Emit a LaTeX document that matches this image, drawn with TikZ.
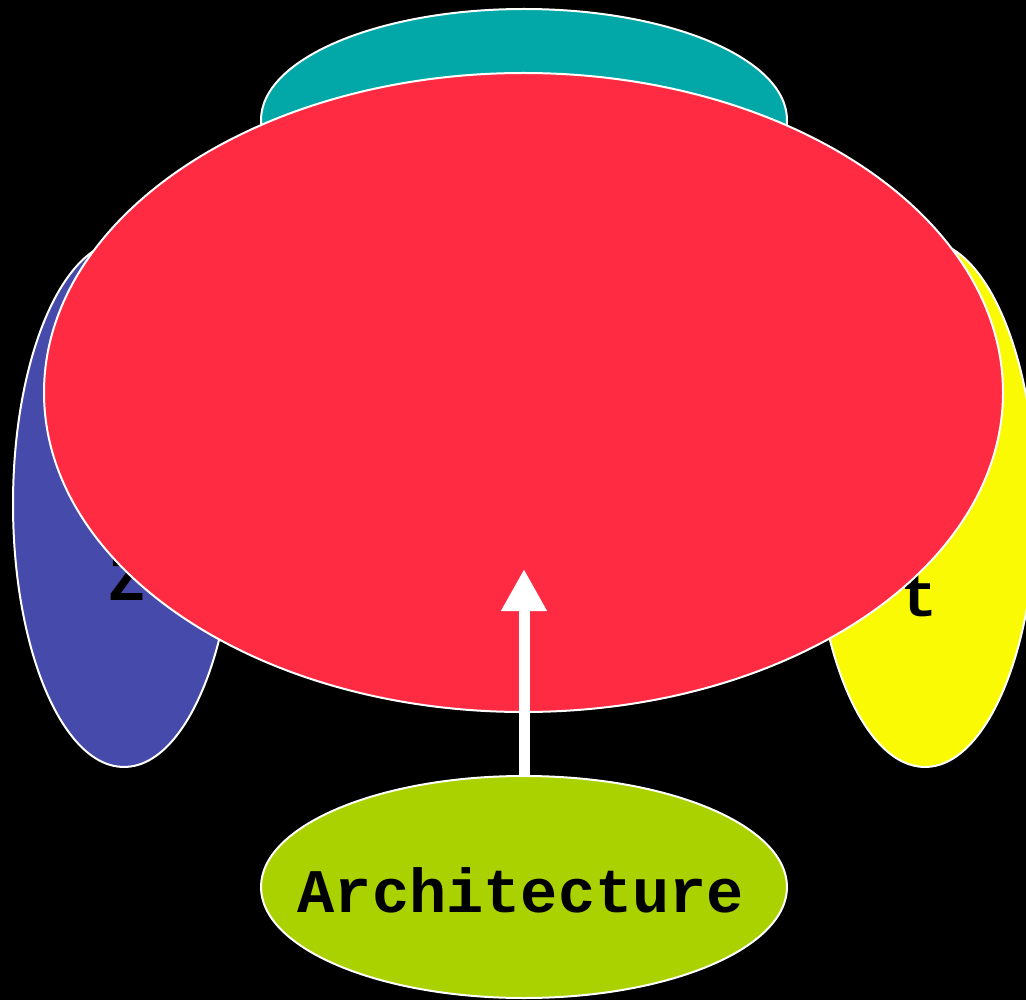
\documentclass[tikz,border=0pt]{standalone}
\usepackage{fontspec}
\newfontfamily\tw{Liberation Mono}
\usetikzlibrary{shapes.geometric,arrows.meta}
\definecolor{cteal}{RGB}{2,168,168}
\definecolor{cred}{RGB}{255,43,67}
\definecolor{cblue}{RGB}{70,74,170}
\definecolor{cyel}{RGB}{250,250,5}
\definecolor{cgreen}{RGB}{170,210,0}
\tikzset{
  blob/.style={ellipse, draw=white, line width=2pt, inner sep=0pt},
  lbl/.style={font=\tw\bfseries\fontsize{62}{62}\selectfont, text=black, inner sep=0pt},
  conn/.style={draw=white, line width=11pt, -{Triangle[length=42pt,width=43pt]}}
}
\begin{document}
\begin{tikzpicture}[x=1pt,y=-1pt]
\fill[black] (0,0) rectangle (1026,1000);
\useasboundingbox (0,0) rectangle (1026,1000);
\node[blob, fill=cteal, minimum width=526pt, minimum height=222pt] (top) at (524,120) {};
\node[blob, fill=cblue, minimum width=222pt, minimum height=526pt] (left) at (124,504) {};
\node[blob, fill=cyel, minimum width=222pt, minimum height=526pt] (right) at (925,504) {};
\node[lbl, anchor=base] (ltext) at (127,600) {Z};
\node[lbl, anchor=base] (rtext) at (919,616) {t};
\node[blob, fill=cred, minimum width=959pt, minimum height=639pt] (core) at (523.5,392.5) {};
\node[blob, fill=cgreen, minimum width=526pt, minimum height=222pt] (arch) at (524,887) {};
\node[lbl, anchor=base] (archtext) at (521,912) {Architecture};
\coordinate (tip) at (524,569);
\draw[conn] (arch.north) -- (tip);
\end{tikzpicture}
\end{document}
